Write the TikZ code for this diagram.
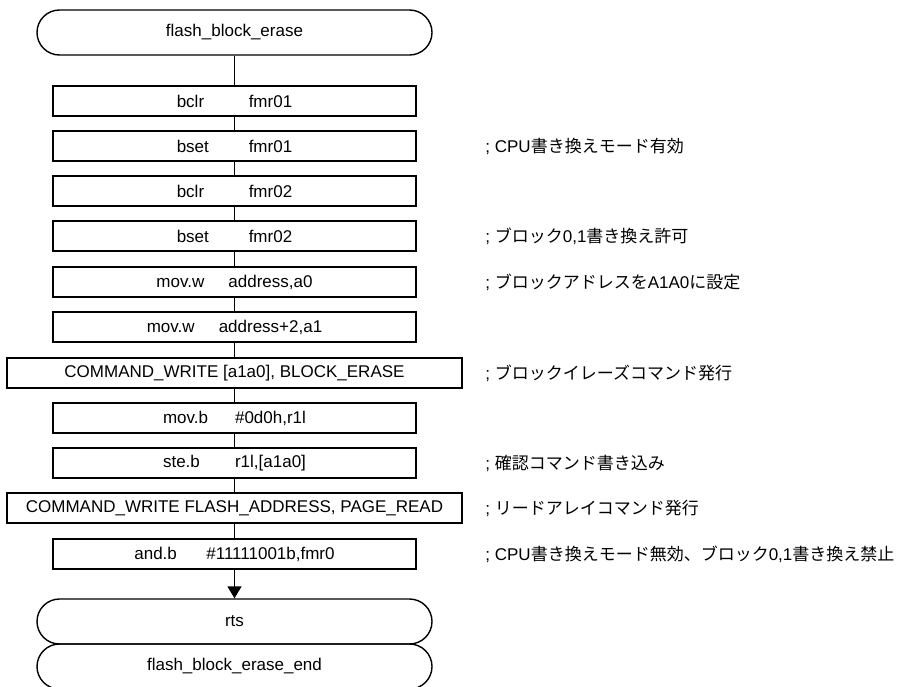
\documentclass[tikz,border=0pt]{standalone}
\usepackage{fontspec}
\setmainfont{Liberation Sans}
\newfontfamily\cjk{Noto Sans CJK JP}
\usetikzlibrary{arrows.meta}

\tikzset{
	term/.style={draw, line width=0.7pt, rounded corners=11.25pt, minimum width=197.5pt, minimum height=22.5pt, inner sep=0pt},
	stepbox/.style={draw, line width=0.7pt, minimum width=181.5pt, minimum height=15pt, inner sep=0pt},
	widebox/.style={stepbox, minimum width=227.5pt},
	note/.style={anchor=west, inner sep=0pt},
	flow/.style={line width=0.7pt},
}
\newcommand{\instr}[2]{\makebox[36pt][l]{#1}#2}

\begin{document}
\begin{tikzpicture}[x=0.5pt, y=-0.5pt, font=\fontsize{8.5}{10}\selectfont]
	\useasboundingbox (0,0) rectangle (897,686);
	\clip (0,0) rectangle (897,686);
	% entry
	\node[term] (start) at (234.5,32.5) {flash\_block\_erase};
	% instructions
	\node[stepbox] (bclr1) at (234.5,101) {\instr{bclr}{fmr01}};
	\node[stepbox] (bset1) at (234.5,146) {\instr{bset}{fmr01}};
	\node[stepbox] (bclr2) at (234.5,191) {\instr{bclr}{fmr02}};
	\node[stepbox] (bset2) at (234.5,236) {\instr{bset}{fmr02}};
	\node[stepbox] (mova0) at (234.5,282) {\instr{mov.w}{address,a0}};
	\node[stepbox] (mova1) at (234.5,327) {\instr{mov.w}{address+2,a1}};
	\node[widebox] (erase) at (234.5,373) {COMMAND\_WRITE [a1a0], BLOCK\_ERASE};
	\node[stepbox] (movb) at (234.5,418) {\instr{mov.b}{\#0d0h,r1l}};
	\node[stepbox] (steb) at (234.5,463) {\instr{ste.b}{r1l,[a1a0]}};
	\node[widebox] (read) at (234.5,508) {COMMAND\_WRITE FLASH\_ADDRESS, PAGE\_READ};
	\node[stepbox] (andb) at (234.5,554) {\instr{and.b}{\#11111001b,fmr0}};
	% exit
	\node[term] (rts) at (234.5,621.5) {rts};
	\node[term] (stop) at (234.5,666.5) {flash\_block\_erase\_end};
	% comments
	\node[note] (c1) at (485,146) {; CPU{\cjk 書き換えモード有効}};
	\node[note] (c2) at (485,236) {; {\cjk ブロック}0,1{\cjk 書き換え許可}};
	\node[note] (c3) at (485,282) {; {\cjk ブロックアドレスを}A1A0{\cjk に設定}};
	\node[note] (c4) at (485,373) {; {\cjk ブロックイレーズコマンド発行}};
	\node[note] (c5) at (485,463) {; {\cjk 確認コマンド書き込み}};
	\node[note] (c6) at (485,508) {; {\cjk リードアレイコマンド発行}};
	\node[note] (c7) at (485,554) {; CPU{\cjk 書き換えモード無効、ブロック}0,1{\cjk 書き換え禁止}};
	% flow
	\foreach \a/\b in {start/bclr1, bclr1/bset1, bset1/bclr2, bclr2/bset2, bset2/mova0, mova0/mova1, mova1/erase, erase/movb, movb/steb, steb/read, read/andb}
		\draw[flow] (\a) -- (\b);
	\draw[flow, -{Triangle[length=6pt, width=7pt]}] (andb) -- (rts);
\end{tikzpicture}
\end{document}
